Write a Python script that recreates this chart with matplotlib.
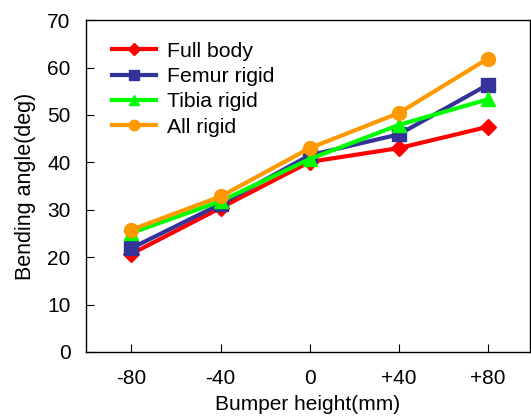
import numpy as np
import matplotlib.pyplot as plt

plt.rcParams['font.family'] = ['Liberation Sans', 'DejaVu Sans']

heights = ['-80', '-40', '0', '+40', '+80']
full_body = [20.7, 30.4, 40.1, 43.0, 47.5]
femur_rigid = [21.9, 31.2, 41.5, 45.9, 56.4]
tibia_rigid = [25.1, 31.8, 40.7, 47.9, 53.3]
all_rigid = [25.8, 32.8, 43.0, 50.4, 61.9]

x = np.arange(len(heights))

fig = plt.figure(figsize=(5.31, 4.19), dpi=100)
ax = fig.add_axes([0.162, 0.160, 0.836, 0.792])

ax.plot(x, full_body, color='#FF0000', lw=3, marker='D', ms=7.7, label='Full body')
ax.plot(x, femur_rigid, color='#333399', lw=3, marker='s', ms=10.5,
        mfc='#333399', mec='#333399', label='Femur rigid')
ax.plot(x, tibia_rigid, color='#00FF00', lw=3, marker='^', ms=10, label='Tibia rigid')
ax.plot(x, all_rigid, color='#FF9900', lw=3, marker='o', ms=10, label='All rigid')

ax.set_xlim(-0.51, 4.47)
ax.set_ylim(0, 70)
ax.set_xticks(x)
ax.set_xticklabels(heights)
ax.set_yticks(np.arange(0, 71, 10))
ax.tick_params(direction='in', labelsize=15, length=6)
ax.tick_params(axis='x', pad=12)
ax.tick_params(axis='y', pad=11)
ax.set_xlabel('Bumper height(mm)', fontsize=15, labelpad=5)
ax.set_ylabel('Bending angle(deg)', fontsize=15.5, labelpad=8)

for s in ax.spines.values():
    s.set_linewidth(1)

ax.legend(loc='upper left', frameon=False, fontsize=15.3, handlelength=2.1,
          handletextpad=0.5, labelspacing=0.3, markerscale=0.75,
          bbox_to_anchor=(0.058, 0.935), borderaxespad=0, borderpad=0)

fig.savefig('out.png', dpi=100)
